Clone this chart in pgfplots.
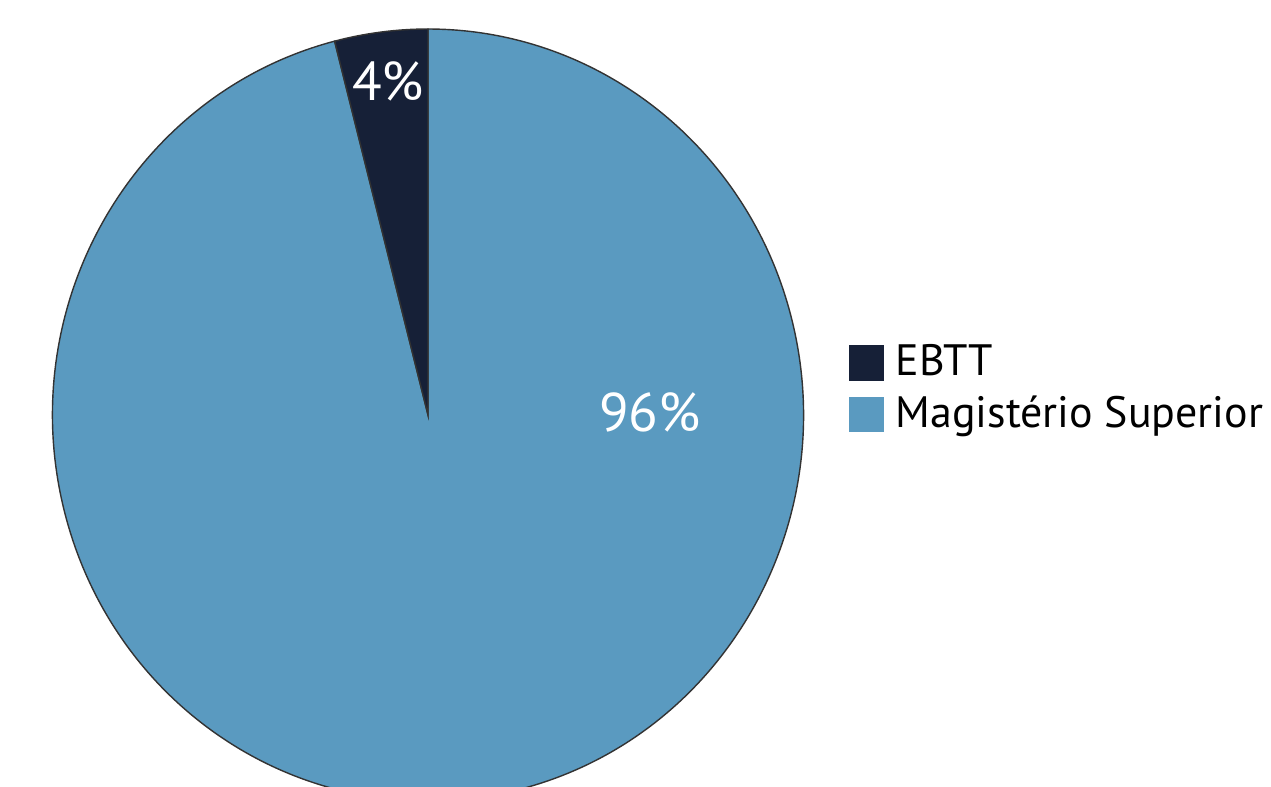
\documentclass[border=0pt]{standalone}
\usepackage{pgfplots}
\usepackage{pgfplotstable}
\pgfplotsset{compat=1.18}
\usepackage{fontspec}
\setmainfont{PT Sans}
\definecolor{cEBTT}{HTML}{162037}
\definecolor{cMag}{HTML}{5A9AC0}
\pgfplotstableread{
label value
EBTT 4
Mag 96
}\piedata
\begin{document}
\begin{tikzpicture}
\pgfplotstablegetelem{0}{value}\of\piedata \let\va\pgfplotsretval
\pgfplotstablegetelem{1}{value}\of\piedata \let\vb\pgfplotsretval
\begin{axis}[
  width=12.71cm, height=7.86cm, scale only axis,
  xmin=0, xmax=1271, ymin=0, ymax=786,
  hide axis, clip=true,
]
\coordinate (ll) at (axis cs:0,0);
\coordinate (ur) at (axis cs:1271,786);
\pgfmathsetmacro{\aA}{90}
\pgfmathsetmacro{\aB}{90+3.6*\va}
\pgfmathsetmacro{\aC}{\aB+3.6*\vb}
\filldraw[fill=cMag, draw=black!80, line width=0.4pt]
  (axis cs:428,371) -- ++(\aB:3.755cm and 3.86cm) arc[start angle=\aB, end angle=\aC, x radius=3.755cm, y radius=3.86cm] -- cycle;
\filldraw[fill=cEBTT, draw=black!80, line width=0.4pt]
  (axis cs:428,371) -- ++(\aA:3.755cm and 3.86cm) arc[start angle=\aA, end angle=\aB, x radius=3.755cm, y radius=3.86cm] -- cycle;
\node[white, font=\fontsize{15.5pt}{18pt}\selectfont] at (axis cs:388,705) {\va\%};
\node[white, font=\fontsize{15.5pt}{18pt}\selectfont] at (axis cs:650,374) {\vb\%};
\fill[cEBTT] (axis cs:849,405) rectangle (axis cs:884,441);
\fill[cMag] (axis cs:849,354) rectangle (axis cs:884,389);
\node[anchor=base west, font=\fontsize{12.5pt}{15pt}\selectfont, inner sep=0pt] at (axis cs:895,411) {EBTT};
\node[anchor=base west, font=\fontsize{12.5pt}{15pt}\selectfont, inner sep=0pt] at (axis cs:895,359) {Magistério Superior};
\end{axis}
\pgfresetboundingbox
\useasboundingbox (ll) rectangle (ur);
\end{tikzpicture}
\end{document}
